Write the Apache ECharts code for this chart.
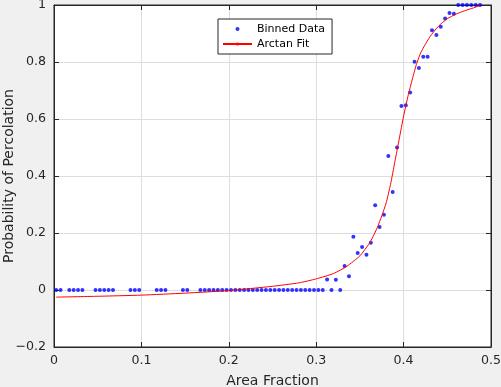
<!DOCTYPE html>
<html>
<head>
<meta charset="utf-8">
<script src="https://cdn.jsdelivr.net/npm/echarts@6/dist/echarts.min.js"></script>
<style>
html,body{margin:0;padding:0;background:#f0f0f0;}
#chart{width:501px;height:387px;}
</style>
</head>
<body>
<div id="chart"></div>
<script>
// Binned data (bin centres and probabilities)
const binX = [0.0025,0.0075,0.0175,0.0225,0.0275,0.0325,0.0475,0.0525,0.0575,0.0625,0.0675,
  0.0875,0.0925,0.0975,0.1175,0.1225,0.1275,0.1475,0.1525,
  0.1675,0.1725,0.1775,0.1825,0.1875,0.1925,0.1975,0.2025,0.2075,0.2125,0.2175,0.2225,0.2275,
  0.2325,0.2375,0.2425,0.2475,0.2525,0.2575,0.2625,0.2675,0.2725,0.2775,0.2825,0.2875,0.2925,
  0.2975,0.3025,0.3075,
  0.3125,0.3175,0.3225,0.3275,0.3325,0.3375,0.3425,0.3475,0.3525,0.3575,0.3625,0.3675,0.3725,
  0.3775,0.3825,0.3875,0.3925,0.3975,0.4025,0.4075,0.4125,0.4175,0.4225,0.4275,0.4325,0.4375,
  0.4425,0.4475,0.4525,0.4575,0.4625,0.4675,0.4725,0.4775,0.4825,0.4875];
const binY = [0,0,0,0,0,0,0,0,0,0,0,
  0,0,0,0,0,0,0,0,
  0,0,0,0,0,0,0,0,0,0,0,0,0,
  0,0,0,0,0,0,0,0,0,0,0,0,0,
  0,0,0,
  0.037,0,0.036,0,0.084,0.048,0.187,0.130,0.151,0.124,0.166,0.297,0.221,
  0.264,0.470,0.344,0.500,0.646,0.648,0.693,0.801,0.779,0.818,0.818,0.911,0.895,
  0.924,0.953,0.972,0.969,1,1,1,1,1,1];

// Arctan fit curve
const fitX = [0.0025,0.05,0.1,0.15,0.2,0.25,0.28,0.3,0.32,0.335,0.35,0.36,0.365,0.37,0.375,0.38,
  0.385,0.39,0.395,0.4,0.405,0.41,0.415,0.42,0.43,0.44,0.45,0.46,0.47,0.48,0.4875];
const fitY = [-0.025,-0.022,-0.018,-0.011,-0.002,0.013,0.025,0.039,0.058,0.083,0.12,0.16,0.187,0.22,
  0.26,0.305,0.37,0.45,0.53,0.61,0.68,0.74,0.795,0.835,0.888,0.926,0.952,0.968,0.98,0.99,0.998];

const xTickLabels = ['0','0.1','0.2','0.3','0.4','0.5'];
const yTickLabels = ['\u22120.2','0','0.2','0.4','0.6','0.8','1'];

const seriesNames = ['Binned Data','Arctan Fit'];
const xLabel = 'Area Fraction';
const yLabel = 'Probability of Percolation';

const FONT = 'DejaVu Sans';
const TXT = '#262626';
const GRIDC = '#dedede';

const chart = echarts.init(document.getElementById('chart'), null, {renderer:'canvas'});

const xMin = 0, xMax = 0.5, xInt = 0.1;
const yMin = -0.2, yMax = 1, yInt = 0.2;

function xFmt(v){ return xTickLabels[Math.round((v - xMin)/xInt)]; }
function yFmt(v){ return yTickLabels[Math.round((v - yMin)/yInt)]; }

function axisLineTick(){
  return {
    axisLine:{show:true, onZero:false, lineStyle:{color:TXT, width:1}},
    axisTick:{show:true, inside:true, length:5, lineStyle:{color:TXT, width:1}}
  };
}

chart.setOption({
  backgroundColor:'#f0f0f0',
  animation:false,
  textStyle:{fontFamily:FONT},
  grid:{left:54, top:5, right:10, bottom:40, containLabel:false, outerBoundsMode:'none',
    show:true, backgroundColor:'#ffffff', borderColor:TXT, borderWidth:1},
  legend:{
    orient:'vertical', left:218, top:19,
    data:[{name:seriesNames[0], icon:'circle'}, {name:seriesNames[1]}],
    itemWidth:29, itemHeight:4, itemGap:1,
    padding:[3,7,3,4],
    backgroundColor:'#ffffff', borderColor:TXT, borderWidth:1, borderRadius:0,
    textStyle:{fontFamily:FONT, fontSize:11, color:'#000', lineHeight:14}
  },
  xAxis:[
    Object.assign({type:'value', min:xMin, max:xMax, interval:xInt, position:'bottom',
      name:xLabel, nameLocation:'middle', nameGap:27, nameMoveOverlap:false,
      nameTextStyle:{fontFamily:FONT, fontSize:14, color:TXT},
      axisLabel:{fontFamily:FONT, fontSize:12.6, color:TXT, margin:7, formatter:xFmt, showMaxLabel:true, showMinLabel:true},
      splitLine:{show:true, lineStyle:{color:GRIDC, width:1}}}, axisLineTick()),
    Object.assign({type:'value', min:xMin, max:xMax, interval:xInt, position:'top',
      axisLabel:{show:false}, splitLine:{show:false}}, axisLineTick())
  ],
  yAxis:[
    Object.assign({type:'value', min:yMin, max:yMax, interval:yInt, position:'left',
      name:yLabel, nameLocation:'middle', nameGap:38, nameMoveOverlap:false,
      nameTextStyle:{fontFamily:FONT, fontSize:14, color:TXT},
      axisLabel:{fontFamily:FONT, fontSize:12.6, color:TXT, margin:8, formatter:yFmt},
      splitLine:{show:true, lineStyle:{color:GRIDC, width:1}}}, axisLineTick()),
    Object.assign({type:'value', min:yMin, max:yMax, interval:yInt, position:'right',
      axisLabel:{show:false}, splitLine:{show:false}}, axisLineTick())
  ],
  series:[
    {name:seriesNames[0], type:'scatter', xAxisIndex:0, yAxisIndex:0,
      symbol:'circle', symbolSize:4, itemStyle:{color:'#0000ff'},
      data: binX.map((x,i)=>[x, binY[i]]), z:2},
    {name:seriesNames[1], type:'line', xAxisIndex:0, yAxisIndex:0,
      symbol:'none', showSymbol:false, smooth:0.2,
      lineStyle:{color:'#ff0000', width:1}, itemStyle:{color:'#ff0000'},
      data: fitX.map((x,i)=>[x, fitY[i]]), z:3}
  ]
});
</script>
</body>
</html>
